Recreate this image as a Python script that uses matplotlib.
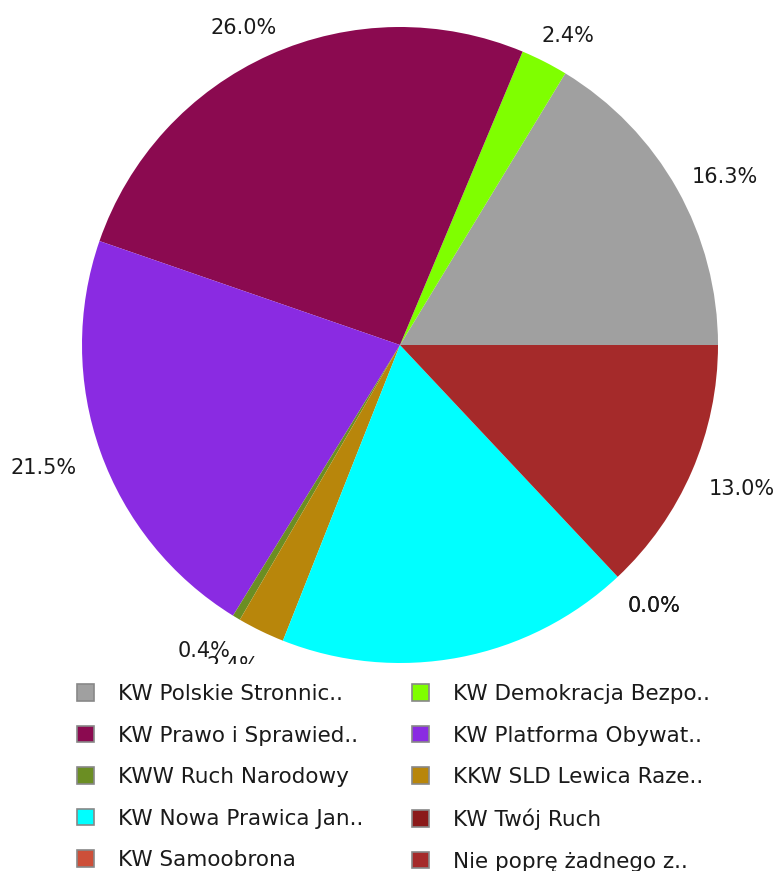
import matplotlib
matplotlib.use("Agg")
import matplotlib.pyplot as plt
from matplotlib.patches import Patch

# vote shares, in drawing order (counter-clockwise from 3 o'clock)
parties = [
    "KW Polskie Stronnic..",
    "KW Demokracja Bezpo..",
    "KW Prawo i Sprawied..",
    "KW Platforma Obywat..",
    "KWW Ruch Narodowy",
    "KKW SLD Lewica Raze..",
    "KW Nowa Prawica Jan..",
    "KW Twój Ruch",
    "KW Samoobrona",
    "Nie poprę żadnego z..",
]
shares = [16.3, 2.4, 26.0, 21.5, 0.4, 2.4, 18.0, 0.0, 0.0, 13.0]
colors = ["#a0a0a0", "#7fff00", "#8b0a50", "#8a2be2", "#6b8e23",
          "#b8860b", "#00ffff", "#8b1a1a", "#cd4f39", "#a52a2a"]

W, H = 781, 871
fig = plt.figure(figsize=(W / 100, H / 100), dpi=100)
fig.patch.set_facecolor("white")

# pie: centre (400, 345) px, radius 318 px
cx, cy, r = 400, 345, 318
ax = fig.add_axes([(cx - r) / W, (H - cy - r) / H, 2 * r / W, 2 * r / H])
wedges, texts, autotexts = ax.pie(
    shares, colors=colors, startangle=0, counterclock=True,
    autopct="%1.1f%%", pctdistance=1.0,
    wedgeprops=dict(linewidth=0),
    textprops=dict(fontsize=15, color="#1a1a1a"),
)
# labels sit on a slightly flattened ring outside the pie
for t in autotexts:
    x, y = t.get_position()
    t.set_position((x * 1.18 - 0.008, y * 1.107 - 0.008))
    t.set_va("center_baseline")
    t.set_clip_on(False)
ax.set_xlim(-1, 1)
ax.set_ylim(-1, 1)
ax.set_aspect("auto")

# legend area, white panel drawn over the lower labels
leg_top = 664
lax = fig.add_axes([0, 0, 1, (H - leg_top) / H])
lax.set_facecolor("white")
lax.set_xticks([])
lax.set_yticks([])
for s in lax.spines.values():
    s.set_visible(False)

handles = [Patch(facecolor=c, edgecolor="#888888", linewidth=1.2) for c in colors]
# legend reads row by row, matplotlib fills column by column
order = list(range(0, len(parties), 2)) + list(range(1, len(parties), 2))
lax.legend(
    [handles[i] for i in order], [parties[i] for i in order],
    ncol=2, loc="upper left",
    bbox_to_anchor=(77 / W, 1 - 684 / H), bbox_transform=fig.transFigure,
    frameon=False, borderpad=0, borderaxespad=0,
    fontsize=15.5, handlelength=0.79, handleheight=0.79,
    handletextpad=1.1, labelspacing=1.0, columnspacing=2.27,
    labelcolor="#1a1a1a",
)

fig.savefig("out.png", dpi=100, facecolor="white")
